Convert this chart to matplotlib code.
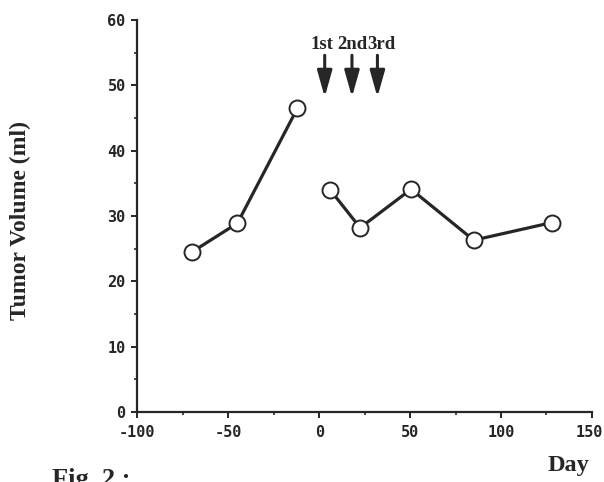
import matplotlib
matplotlib.use("Agg")
import matplotlib.pyplot as plt
import matplotlib.transforms as mtransforms
from matplotlib.ticker import MultipleLocator

# Data
pre_days = [-70, -45, -12]
pre_volume = [24.5, 28.9, 46.5]
post_days = [6, 22.5, 50.5, 85, 128]
post_volume = [34.0, 28.2, 34.1, 26.3, 29.0]
treat_days = [3, 18, 32]
treat_labels = ["1st", "2nd", "3rd"]
label_offsets = [-2.2, 0.5, 3.2]  # points

x_ticks = [-100, -50, 0, 50, 100, 150]
y_ticks = [0, 10, 20, 30, 40, 50, 60]

ink = "#262626"

fig = plt.figure(figsize=(6.04, 4.82), dpi=100)
ax = fig.add_axes([0.2276, 0.1452, 0.7524, 0.8133])

line_kw = dict(color=ink, lw=2.3, marker="o", markersize=11.5,
               markerfacecolor="white", markeredgecolor=ink, markeredgewidth=1.4)
ax.plot(pre_days, pre_volume, **line_kw)
ax.plot(post_days, post_volume, **line_kw)

ax.set_xlim(-100, 150)
ax.set_ylim(0, 60)
ax.set_xticks(x_ticks)
ax.set_yticks(y_ticks)
ax.set_xticklabels([str(v) for v in x_ticks])
ax.set_yticklabels([str(v) for v in y_ticks])
ax.xaxis.set_minor_locator(MultipleLocator(25))
ax.yaxis.set_minor_locator(MultipleLocator(5))

for s in ["top", "right"]:
    ax.spines[s].set_visible(False)
for s in ["left", "bottom"]:
    ax.spines[s].set_linewidth(1.6)
    ax.spines[s].set_color(ink)
ax.spines["left"].set_bounds(0, 60)
ax.spines["bottom"].set_bounds(-100, 150)

ax.tick_params(axis="both", which="major", length=4.5, width=1.4, color=ink, pad=4)
ax.tick_params(axis="both", which="minor", length=2.5, width=1.2, color=ink)
for lab in ax.get_xticklabels() + ax.get_yticklabels():
    lab.set_fontfamily("DejaVu Sans Mono")
    lab.set_fontweight("bold")
    lab.set_fontsize(11)
    lab.set_color(ink)
ax.tick_params(axis="x", which="major", pad=5)

# nudge the last x tick label so it stays inside the canvas
last = ax.get_xticklabels()[-1]
last.set_transform(last.get_transform() +
                   mtransforms.ScaledTranslation(-3 / 100, 0, fig.dpi_scale_trans))

# Treatment arrows
for d, lab, off in zip(treat_days, treat_labels, label_offsets):
    ax.annotate("", xy=(d, 48.2), xytext=(d, 54.6),
                arrowprops=dict(arrowstyle="-|>,head_length=1.6,head_width=0.45",
                                color=ink, lw=2.2, shrinkA=0, shrinkB=0),
                annotation_clip=False)
    ax.annotate(lab, xy=(d, 56.3), xytext=(off, 0), textcoords="offset points",
                ha="center", va="center", fontsize=13.5, fontweight="bold",
                family="Liberation Serif", color=ink, annotation_clip=False)

fig.text(20 / 604, 1 - 221 / 482, "Tumor Volume (ml)", rotation=90,
         ha="center", va="center", fontsize=17, fontweight="bold",
         family="Liberation Serif", color=ink)
fig.text(568 / 604, 1 - 465 / 482, "Day", ha="center", va="center",
         fontsize=17.5, fontweight="bold", family="Liberation Serif", color=ink)
fig.text(52 / 604, 1 - 468 / 482, "Fig. 2 :", ha="left", va="top",
         fontsize=19, fontweight="bold", family="Liberation Serif", color=ink)

fig.savefig("out.png", dpi=100)
